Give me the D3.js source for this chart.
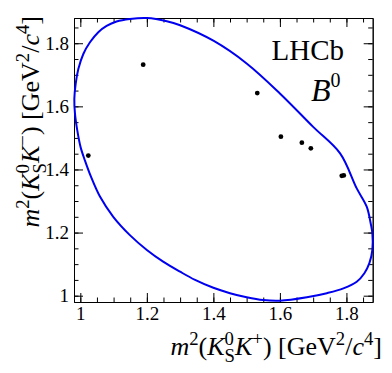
<!DOCTYPE html>
<html>
<head>
<meta charset="utf-8">
<script src="https://cdn.jsdelivr.net/npm/d3@7"></script>
<style>
  body { margin: 0; background: #fff; }
  text { font-family: "Liberation Serif", "Times New Roman", serif; fill: #000; }
</style>
</head>
<body>
<svg width="392" height="373"></svg>
<script>
// Kinematic boundary (clockwise from the leftmost point)
const boundaryX = [0.982, 0.986, 0.994, 1.009, 1.029, 1.054, 1.079, 1.109, 1.149, 1.200,
                   1.260, 1.300, 1.400, 1.500, 1.600, 1.700, 1.781, 1.831, 1.861, 1.873,
                   1.878, 1.878, 1.869, 1.854, 1.831, 1.791, 1.741, 1.681, 1.600, 1.550,
                   1.500, 1.450, 1.400, 1.345, 1.300, 1.249, 1.200, 1.149, 1.099, 1.059,
                   1.032, 1.014, 1.001, 0.991, 0.984];
const boundaryY = [1.623, 1.671, 1.718, 1.766, 1.803, 1.835, 1.855, 1.869, 1.877, 1.880,
                   1.870, 1.857, 1.808, 1.736, 1.641, 1.535, 1.451, 1.340, 1.282, 1.229,
                   1.198, 1.145, 1.103, 1.071, 1.044, 1.023, 1.008, 0.995, 0.984, 0.986,
                   0.995, 1.008, 1.025, 1.050, 1.076, 1.108, 1.145, 1.192, 1.250, 1.314,
                   1.377, 1.428, 1.470, 1.523, 1.576];

// Candidates
const candX = [1.024, 1.189, 1.532, 1.603, 1.666, 1.693, 1.786, 1.792];
const candY = [1.444, 1.732, 1.642, 1.504, 1.485, 1.467, 1.380, 1.381];

// Tick values
const majorTicks = [1.0, 1.2, 1.4, 1.6, 1.8];
const minorTicks = [1.0, 1.05, 1.1, 1.15, 1.2, 1.25, 1.3, 1.35, 1.4, 1.45, 1.5, 1.55,
                    1.6, 1.65, 1.7, 1.75, 1.8, 1.85];

var svg = d3.select("svg"),
    margin = {top: 18, left: 74},
    width = 298.7,
    height = 284,
    g = svg.append("g").attr("transform", "translate(" + margin.left + "," + margin.top + ")");

var x = d3.scaleLinear().domain([0.981, 1.879]).range([0, width]),
    y = d3.scaleLinear().domain([0.98, 1.88]).range([height, 0]);

var fmt = d3.format("");

// Axes: ticks pointing inwards, minor ticks as a second unlabelled axis
function addAxis(axisFn, scale, transform, labelled) {
    g.append("g")
        .attr("class", "minor")
        .attr("transform", transform)
        .call(axisFn(scale).tickValues(minorTicks).tickSizeInner(-4.5).tickSizeOuter(0).tickFormat(""));
    g.append("g")
        .attr("class", "major")
        .attr("transform", transform)
        .call(axisFn(scale).tickValues(majorTicks).tickSizeInner(-9).tickSizeOuter(0)
            .tickPadding(labelled ? 5 : 0)
            .tickFormat(labelled ? fmt : ""));
}

addAxis(d3.axisBottom, x, "translate(0," + height + ")", true);
addAxis(d3.axisLeft, y, null, true);
addAxis(d3.axisTop, x, null, false);
addAxis(d3.axisRight, y, "translate(" + width + ",0)", false);

g.selectAll(".domain, .tick line").attr("stroke", "#000").attr("stroke-width", 1);
g.selectAll(".tick text")
    .style("font-family", "'Liberation Serif', serif")
    .style("font-size", "19px");
g.selectAll(".tick text").filter(function() { return this.textContent === ""; }).remove();

// Boundary
var line = d3.line()
    .curve(d3.curveCatmullRomClosed)
    .x(function(d) { return x(d[0]); })
    .y(function(d) { return y(d[1]); });

g.append("path")
    .datum(d3.zip(boundaryX, boundaryY))
    .attr("d", line)
    .attr("fill", "none")
    .attr("stroke", "#0000f0")
    .attr("stroke-width", 2);

// Candidates
g.selectAll(".cand")
    .data(d3.zip(candX, candY))
    .enter().append("circle")
    .attr("class", "cand")
    .attr("cx", function(d) { return x(d[0]); })
    .attr("cy", function(d) { return y(d[1]); })
    .attr("r", 2.4)
    .attr("fill", "#000");

// Rich text with super/subscripts
function rich(textSel, parts, size) {
    var cur = 0;
    parts.forEach(function(p) {
        var target = p.sup ? -0.4 * size : p.sub ? 0.25 * size : 0;
        var ts = textSel.append("tspan")
            .text(p.t)
            .attr("dy", target - cur)
            .style("font-size", (p.sup || p.sub ? 0.72 * size : size) + "px");
        if (p.i) ts.style("font-style", "italic");
        if (p.back) ts.attr("dx", -p.back);
        cur = target;
    });
}

function massTitle(charge, size) {
    return [
        {t: "m", i: true}, {t: "2", sup: true}, {t: "("}, {t: "K", i: true},
        {t: "0", sup: true}, {t: "S", sub: true, back: 0.36 * size},
        {t: "K", i: true}, {t: charge, sup: true}, {t: ") [GeV"}, {t: "2", sup: true},
        {t: "/"}, {t: "c", i: true}, {t: "4", sup: true}, {t: "]"}
    ];
}

var titleSize = 26;
rich(svg.append("text")
    .attr("x", 382)
    .attr("y", 355)
    .attr("text-anchor", "end"), massTitle("+", titleSize), titleSize);

rich(svg.append("text")
    .attr("transform", "translate(39,16) rotate(-90)")
    .attr("text-anchor", "end"), massTitle("\u2212", titleSize), titleSize);

// Labels
svg.append("text")
    .attr("x", 344)
    .attr("y", 60)
    .attr("text-anchor", "end")
    .style("font-size", "29px")
    .text("LHCb");

var b0 = svg.append("text")
    .attr("x", 311)
    .attr("y", 101)
    .style("font-size", "32px");
b0.append("tspan").style("font-style", "italic").text("B");
b0.append("tspan").attr("dy", -14).style("font-size", "20px").text("0");
</script>
</body>
</html>
